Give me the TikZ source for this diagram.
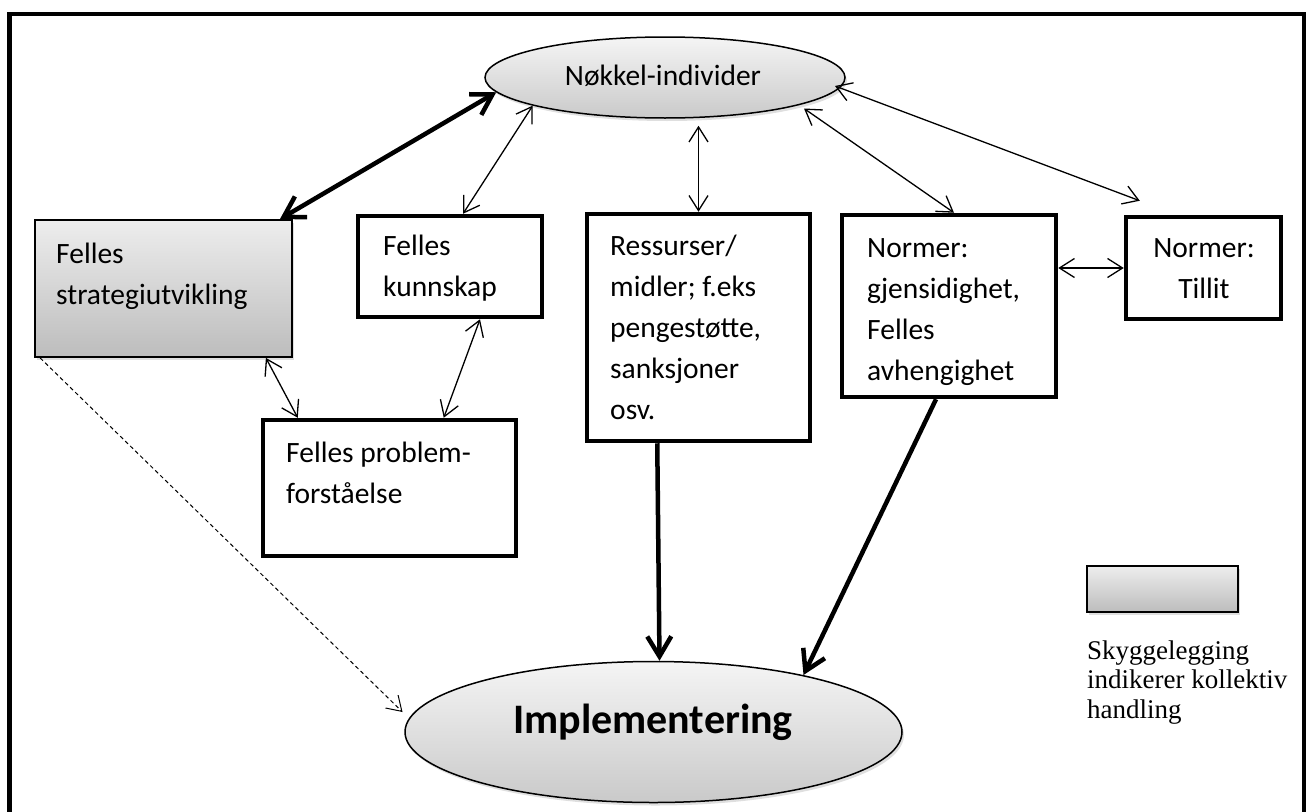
\documentclass[tikz,border=0pt]{standalone}
\usepackage{fontspec}
\setmainfont{Carlito}
\newfontfamily\legendfont{Liberation Serif}
\usetikzlibrary{shapes.geometric,arrows.meta,calc,shadows}
\newcommand\mlines[2][l]{\begin{tabular}[t]{@{}#1@{}}#2\end{tabular}}
\begin{document}
\begin{tikzpicture}[x=1pt,y=-1pt,
  thickbox/.style={draw, line width=4.5pt, inner sep=0pt},
  shadowed/.style={drop shadow={shadow xshift=2pt,shadow yshift=-3pt,opacity=0.25}},
  shadebox/.style={draw, line width=1.8pt, inner sep=0pt, top color=gray!14, bottom color=gray!52, shadowed},
  oval/.style={ellipse, draw, line width=1.5pt, inner sep=0pt, top color=gray!8, bottom color=gray!42, shadowed},
  txt/.style={inner sep=0pt, font=\fontsize{29.5}{41}\selectfont},
  bigtxt/.style={inner sep=0pt, font=\fontsize{42}{48}\selectfont\bfseries},
  legtxt/.style={inner sep=0pt, font=\fontsize{27}{29.5}\selectfont\legendfont},
  bi/.style={{Straight Barb[length=15pt,width=19pt]}-{Straight Barb[length=15pt,width=19pt]}, line width=1.3pt},
  thickbi/.style={{Straight Barb[length=20pt,width=24pt]}-{Straight Barb[length=20pt,width=24pt]}, line width=4.5pt},
  thickarr/.style={-{Straight Barb[length=20pt,width=24pt]}, line width=4.5pt},
  dasharr/.style={-{Straight Barb[length=14pt,width=18pt]}, line width=1pt, dash pattern=on 4pt off 3pt}
]
\useasboundingbox (0,0) rectangle (1311,811);
% outer frame
\draw[line width=4.5pt] (9.5,830) -- (9.5,14) -- (1304,14) -- (1304,830);

% ellipses
\node[oval, minimum width=360pt, minimum height=81pt] (nok) at (665,77.5) {};
\node[txt, anchor=base] (nokT) at (663,85) {Nøkkel-individer};
\node[oval, minimum width=497pt, minimum height=141pt] (impl) at (653.5,732) {};
\node[bigtxt, anchor=base] (implT) at (653,733) {Implementering};

% boxes
\node[shadebox, minimum width=257pt, minimum height=137pt] (strat) at (163.5,288.5) {};
\node[txt, anchor=base west] (stratT) at (56,263) {\mlines{Felles\\strategiutvikling}};
\node[thickbox, minimum width=184pt, minimum height=101pt] (kun) at (450,266.5) {};
\node[txt, anchor=base west] (kunT) at (383,255) {\mlines{Felles\\kunnskap}};
\node[thickbox, minimum width=223pt, minimum height=227pt] (res) at (698.5,327.5) {};
\node[txt, anchor=base west] (resT) at (610,255) {\mlines{Ressurser/\\midler; f.eks\\pengestøtte,\\sanksjoner\\osv.}};
\node[thickbox, minimum width=214pt, minimum height=182pt] (norm) at (949,306) {};
\node[txt, anchor=base west] (normT) at (867,257) {\mlines{Normer:\\gjensidighet,\\Felles\\avhengighet}};
\node[thickbox, minimum width=155pt, minimum height=102pt] (till) at (1203.5,268) {};
\node[txt, anchor=base] (tillT) at (1204,257) {\mlines[c]{Normer:\\Tillit}};
\node[thickbox, minimum width=253pt, minimum height=136pt] (prob) at (389.5,488) {};
\node[txt, anchor=base west] (probT) at (286,462) {\mlines{Felles problem-\\forståelse}};

% legend
\node[shadebox, line width=1.6pt, minimum width=151pt, minimum height=46pt] (leg) at (1162.5,589) {};
\node[legtxt, anchor=base west] (legT) at (1087,659) {\begin{tabular}[t]{@{}l@{}}Skyggelegging\\indikerer kollektiv\\handling\end{tabular}};

% connectors
\draw[thickbi] ($(strat.north east)!0.05!(strat.north west)$) -- (nok.185);
\draw[bi] ($(kun.north)+(13,0)$) -- (nok.192);
\draw[bi, shorten >=7pt] (res.north) -- (res.north |- nok.south);
\draw[bi] ($(norm.north)+(5,0)$) -- ($(nok.center)+(139,31)$);
\draw[bi] ($(till.north west)+(16,-14)$) -- ($(nok.center)+(170,8.5)$);
\draw[bi] (norm.east |- till.west) -- (till.west);
\draw[bi] ($(strat.south east)+(-27,0)$) -- ($(prob.north west)+(37,0)$);
\draw[bi] ($(kun.south)+(30,0)$) -- ($(prob.north west)+(183,0)$);
\draw[thickarr] ($(res.south west)+(72.5,0)$) -- ($(impl.north)+(6,0)$);
\draw[thickarr] ($(norm.south)+(-13,0)$) -- ($(impl.center)+(150,-57)$);
\draw[dasharr] ($(strat.south west)+(6,0)$) -- ($(impl.center)+(-251,-20)$);
\end{tikzpicture}
\end{document}
